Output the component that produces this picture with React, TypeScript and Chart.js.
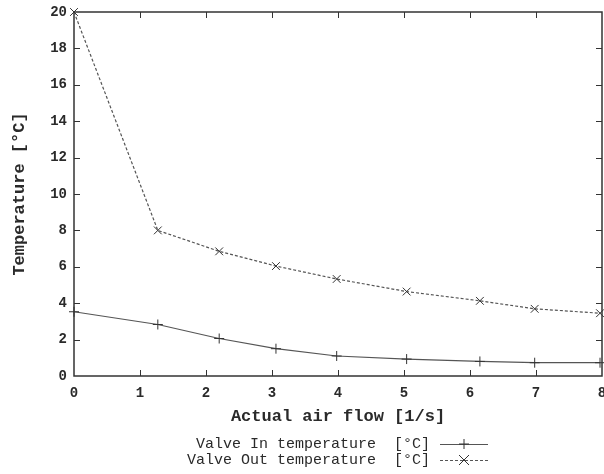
import { useEffect, useRef } from 'react';
import { Chart, registerables } from 'chart.js';

Chart.register(...registerables);

const airFlow = [0, 1.27, 2.2, 3.06, 3.98, 5.04, 6.15, 6.98, 7.97];
const valveIn = [3.53, 2.83, 2.06, 1.5, 1.1, 0.93, 0.8, 0.73, 0.73];
const valveOut = [20, 8.0, 6.85, 6.04, 5.33, 4.64, 4.13, 3.69, 3.45];
const seriesLabels = ['Valve In temperature  [°C]', 'Valve Out temperature  [°C]'];
const xTitle = 'Actual air flow [1/s]';
const yTitle = 'Temperature [°C]';
const xMin = 0, xMax = 8, xStep = 1;
const yMin = 0, yMax = 20, yStep = 2;

const MONO = '"Liberation Mono", "DejaVu Sans Mono", monospace';
const INK = '#2a2a2a';
const LINE = '#555555';

const framePlugin = {
  id: 'gnuFrame',
  beforeDatasetsDraw(chart: any) {
    const { ctx, chartArea: a, scales } = chart;
    const xs = scales.x, ys = scales.y;
    ctx.save();
    ctx.strokeStyle = '#333333';
    ctx.lineWidth = 1.5;
    ctx.strokeRect(a.left, a.top, a.right - a.left, a.bottom - a.top);
    ctx.lineWidth = 1;
    const tl = 6;
    ctx.beginPath();
    for (let v = xMin + xStep; v < xMax; v += xStep) {
      const px = Math.round(xs.getPixelForValue(v)) + 0.5;
      ctx.moveTo(px, a.bottom); ctx.lineTo(px, a.bottom - tl);
      ctx.moveTo(px, a.top); ctx.lineTo(px, a.top + tl);
    }
    for (let v = yMin + yStep; v < yMax; v += yStep) {
      const py = Math.round(ys.getPixelForValue(v)) + 0.5;
      ctx.moveTo(a.left, py); ctx.lineTo(a.left + tl, py);
      ctx.moveTo(a.right, py); ctx.lineTo(a.right - tl, py);
    }
    ctx.stroke();
    ctx.restore();
  },
  afterDraw(chart: any) {
    const { ctx } = chart;
    ctx.save();
    ctx.font = `15px ${MONO}`;
    ctx.fillStyle = INK;
    ctx.textAlign = 'right';
    ctx.textBaseline = 'middle';
    const rows = [444, 460];
    chart.data.datasets.forEach((ds: any, i: number) => {
      const y = rows[i];
      ctx.fillText(ds.label, 430, y);
      ctx.strokeStyle = LINE;
      ctx.lineWidth = 1;
      ctx.setLineDash(ds.borderDash || []);
      ctx.beginPath();
      ctx.moveTo(440, y + 0.5);
      ctx.lineTo(488, y + 0.5);
      ctx.stroke();
      ctx.setLineDash([]);
      ctx.strokeStyle = '#333333';
      ctx.beginPath();
      const cx = 464, r = 5;
      if (ds.pointStyle === 'cross') {
        ctx.moveTo(cx, y - r); ctx.lineTo(cx, y + r);
        ctx.moveTo(cx - r, y); ctx.lineTo(cx + r, y);
      } else {
        ctx.moveTo(cx - r, y - r); ctx.lineTo(cx + r, y + r);
        ctx.moveTo(cx - r, y + r); ctx.lineTo(cx + r, y - r);
      }
      ctx.stroke();
    });
    ctx.restore();
  },
};

export default function App() {
  const ref = useRef<HTMLCanvasElement>(null);
  useEffect(() => {
    if (!ref.current) return;
    const chart = new Chart(ref.current, {
      type: 'line',
      data: {
        datasets: [
          {
            label: seriesLabels[0],
            data: airFlow.map((x, i) => ({ x, y: valveIn[i] })),
            borderColor: LINE,
            borderWidth: 1.2,
            pointStyle: 'cross',
            pointRadius: 5,
            pointBorderColor: '#333333',
            pointBorderWidth: 1,
            pointBackgroundColor: 'transparent',
            fill: false,
            tension: 0,
            clip: false,
          },
          {
            label: seriesLabels[1],
            data: airFlow.map((x, i) => ({ x, y: valveOut[i] })),
            borderColor: LINE,
            borderWidth: 1.2,
            borderDash: [3, 2],
            pointStyle: 'crossRot',
            pointRadius: 5.5,
            pointBorderColor: '#333333',
            pointBorderWidth: 1,
            pointBackgroundColor: 'transparent',
            fill: false,
            tension: 0,
            clip: false,
          },
        ],
      } as any,
      options: {
        animation: false,
        responsive: false,
        maintainAspectRatio: false,
        layout: { autoPadding: false, padding: { top: 12, right: 2, bottom: 47, left: 0 } },
        plugins: { legend: { display: false }, tooltip: { enabled: false } },
        scales: {
          x: {
            type: 'linear',
            min: xMin,
            max: xMax,
            ticks: { stepSize: xStep, color: INK, padding: 9, font: { family: MONO, size: 14, weight: 'bold' } },
            grid: { display: false, drawTicks: false },
            border: { display: false },
            title: { display: true, text: xTitle, color: INK, padding: { top: 0, bottom: 0 }, font: { family: MONO, size: 17, weight: 'bold' } },
            afterFit: (s: any) => { s.height = 51; s.paddingLeft = 0; s.paddingRight = 0; },
          },
          y: {
            type: 'linear',
            min: yMin,
            max: yMax,
            ticks: { stepSize: yStep, color: INK, padding: 7, font: { family: MONO, size: 14, weight: 'bold' } },
            grid: { display: false, drawTicks: false },
            border: { display: false },
            title: { display: true, text: yTitle, color: INK, padding: { top: 10, bottom: 0 }, font: { family: MONO, size: 17, weight: 'bold' } },
            afterFit: (s: any) => { s.width = 74; s.paddingTop = 0; s.paddingBottom = 0; },
          },
        },
      } as any,
      plugins: [framePlugin],
    });
    return () => chart.destroy();
  }, []);
  return (
    <div style={{ position: 'absolute', left: 0, top: 0, width: 604, height: 474, background: '#fff' }}>
      <canvas ref={ref} width={604} height={474} style={{ display: 'block' }} />
    </div>
  );
}
